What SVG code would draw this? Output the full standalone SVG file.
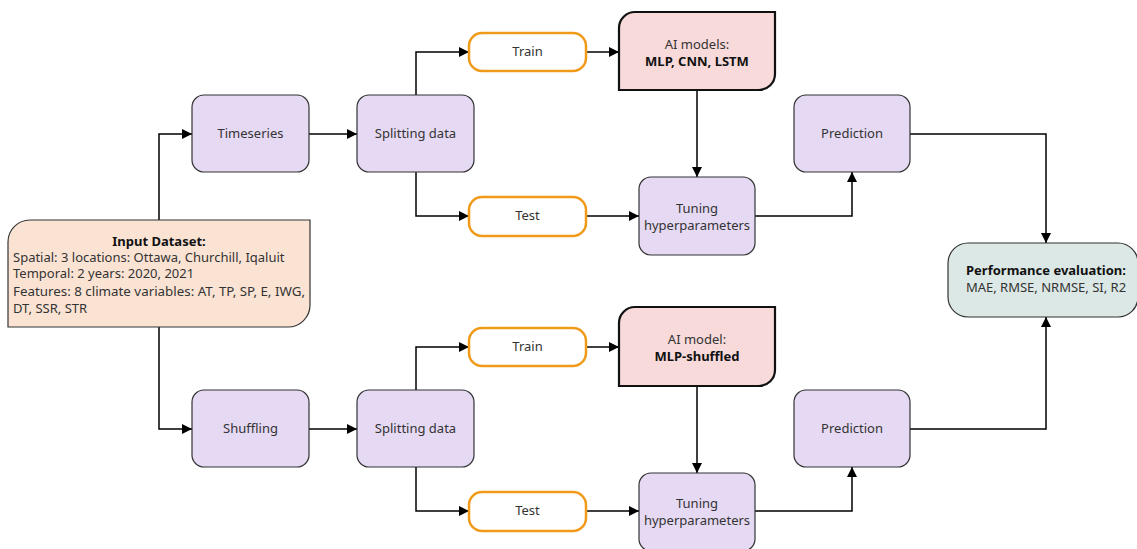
<svg xmlns="http://www.w3.org/2000/svg" width="1137" height="549" viewBox="0 0 1137 549">
<defs>
<marker id="ah" viewBox="0 0 10 10" refX="10" refY="5" markerWidth="10" markerHeight="10" markerUnits="userSpaceOnUse" orient="auto">
<path d="M0,0 L10,5 L0,10 Z" fill="#000"/>
</marker>
<style>
text{font-family:"Noto Sans","Open Sans","Liberation Sans",sans-serif;font-size:13px;fill:#333;}
.c{text-anchor:middle;}
.b{font-weight:bold;fill:#111;}
.proc{fill:#E6D9F4;stroke:#333;stroke-width:1.2;}
.sub{fill:#fff;stroke:#F09A1A;stroke-width:2.5;}
.model{fill:#F8DADA;stroke:#111;stroke-width:2.2;}
.inp{fill:#FBE3D4;stroke:#333;stroke-width:1.2;}
.perf{fill:#DCE8E5;stroke:#333;stroke-width:1.2;}
.con path{fill:none;stroke:#000;stroke-width:1.5;marker-end:url(#ah);}
</style>
</defs>
<rect width="1137" height="549" fill="#fff"/>
<g class="con">
<path d="M159,220 L159,134 L192,134"/>
<path d="M159,327 L159,429 L192,429"/>
<path d="M309,134 L357,134"/>
<path d="M309,429 L357,429"/>
<path d="M416,95 L416,52 L469,52"/>
<path d="M416,172 L416,216 L469,216"/>
<path d="M416,390 L416,347 L469,347"/>
<path d="M416,467 L416,511 L469,511"/>
<path d="M586,52 L619,52"/>
<path d="M586,347 L619,347"/>
<path d="M586,216 L639,216"/>
<path d="M586,511 L639,511"/>
<path d="M697,90 L697,177"/>
<path d="M697,386 L697,473"/>
<path d="M755,216 L852,216 L852,172"/>
<path d="M755,511 L852,511 L852,467"/>
<path d="M910,134 L1046,134 L1046,243"/>
<path d="M910,429 L1046,429 L1046,317"/>
</g>
<g id="input">
<path class="inp" d="M8,327 L8,242 A22,22 0 0 1 30,220 L310,220 L310,305 A22,22 0 0 1 288,327 Z"/>
<text class="c b" x="159" y="246">Input Dataset:</text>
<text x="13" y="262">Spatial: 3 locations: Ottawa, Churchill, Iqaluit</text>
<text x="13" y="278">Temporal: 2 years: 2020, 2021</text>
<text x="13" y="296" textLength="292" lengthAdjust="spacingAndGlyphs">Features: 8 climate variables: AT, TP, SP, E, IWG,</text>
<text x="13" y="313">DT, SSR, STR</text>
</g>
<g id="timeseries">
<rect class="proc" x="192" y="95" width="117" height="77" rx="12"/>
<text class="c" x="250.5" y="138">Timeseries</text>
</g>
<g id="split1">
<rect class="proc" x="357" y="95" width="117" height="77" rx="12"/>
<text class="c" x="415.5" y="138">Splitting data</text>
</g>
<g id="train1">
<rect class="sub" x="469" y="33" width="117" height="38" rx="13"/>
<text class="c" x="527.5" y="56">Train</text>
</g>
<g id="test1">
<rect class="sub" x="469" y="197" width="117" height="39" rx="13"/>
<text class="c" x="527.5" y="220">Test</text>
</g>
<g id="models1">
<path class="model" d="M619,90 L619,28 A16,16 0 0 1 635,12 L775,12 L775,74 A16,16 0 0 1 759,90 Z"/>
<text class="c" x="697" y="49">AI models:</text>
<text class="c b" x="697" y="66">MLP, CNN, LSTM</text>
</g>
<g id="tuning1">
<rect class="proc" x="639" y="177" width="116" height="78" rx="12"/>
<text class="c" x="697" y="213">Tuning</text>
<text class="c" x="697" y="230">hyperparameters</text>
</g>
<g id="pred1">
<rect class="proc" x="794" y="95" width="116" height="77" rx="12"/>
<text class="c" x="852" y="138">Prediction</text>
</g>
<g id="shuffling">
<rect class="proc" x="192" y="390" width="117" height="77" rx="12"/>
<text class="c" x="250.5" y="433">Shuffling</text>
</g>
<g id="split2">
<rect class="proc" x="357" y="390" width="117" height="77" rx="12"/>
<text class="c" x="415.5" y="433">Splitting data</text>
</g>
<g id="train2">
<rect class="sub" x="469" y="328" width="117" height="38" rx="13"/>
<text class="c" x="527.5" y="351">Train</text>
</g>
<g id="test2">
<rect class="sub" x="469" y="492" width="117" height="39" rx="13"/>
<text class="c" x="527.5" y="515">Test</text>
</g>
<g id="models2">
<path class="model" d="M619,386 L619,323 A16,16 0 0 1 635,307 L775,307 L775,370 A16,16 0 0 1 759,386 Z"/>
<text class="c" x="697" y="344">AI model:</text>
<text class="c b" x="697" y="361">MLP-shuffled</text>
</g>
<g id="tuning2">
<rect class="proc" x="639" y="473" width="116" height="78" rx="12"/>
<text class="c" x="697" y="508">Tuning</text>
<text class="c" x="697" y="525">hyperparameters</text>
</g>
<g id="pred2">
<rect class="proc" x="794" y="390" width="116" height="77" rx="12"/>
<text class="c" x="852" y="433">Prediction</text>
</g>
<g id="perf">
<rect class="perf" x="948" y="243" width="190" height="74" rx="20"/>
<text class="c b" x="1046" y="275">Performance evaluation:</text>
<text class="c" x="1046" y="292">MAE, RMSE, NRMSE, SI, R2</text>
</g>
</svg>
